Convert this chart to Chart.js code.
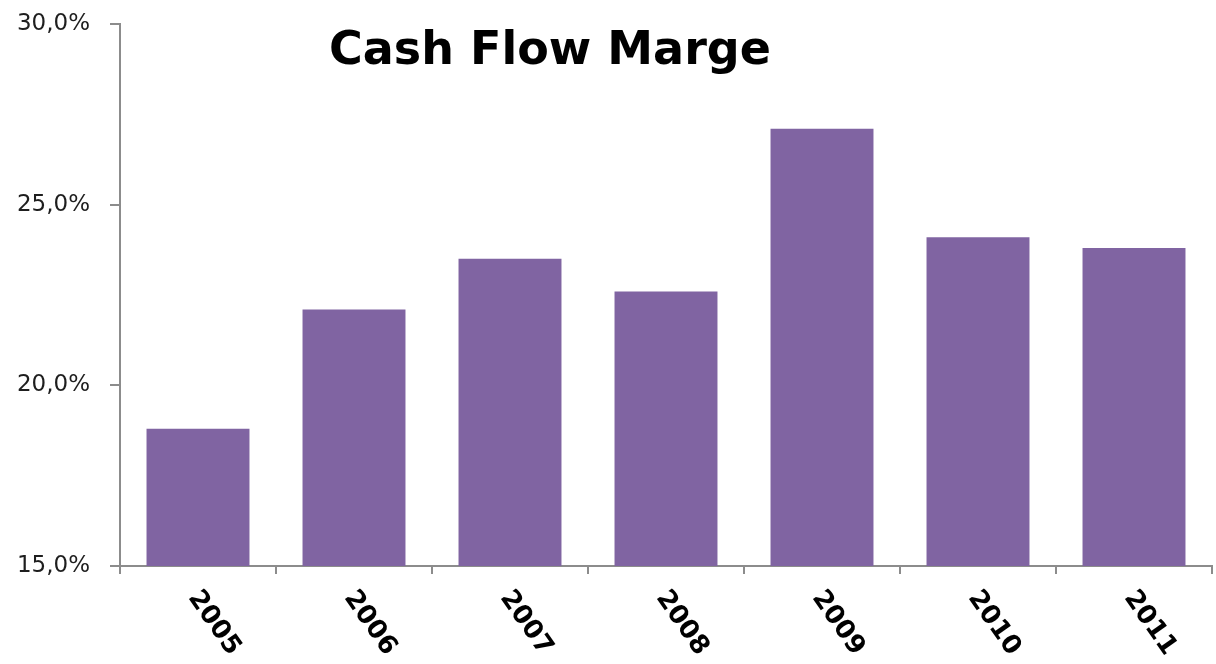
<!DOCTYPE html>
<html>
<head>
<meta charset="utf-8">
<title>Cash Flow Marge</title>
<script src="https://cdn.jsdelivr.net/npm/chart.js@4"></script>
<style>
  html, body { margin: 0; padding: 0; background: #fff; }
  .chart-container { position: relative; width: 1216px; height: 664px; }
</style>
</head>
<body>
<div class="chart-container">
  <canvas id="cashFlowChart"></canvas>
</div>
<script>
// chart data
const years = ['2005', '2006', '2007', '2008', '2009', '2010', '2011'];
const margins = [18.8, 22.1, 23.5, 22.6, 27.1, 24.1, 23.8];
const yTicks = [15, 20, 25, 30];
const chartTitle = 'Cash Flow Marge';

const barColor = '#8064a2';
const axisColor = '#8c8c8c';

// draws the title inside the plot and the slanted year labels
const labelPlugin = {
  id: 'labelPlugin',
  afterDraw(chart) {
    const ctx = chart.ctx;
    const xScale = chart.scales.x;
    ctx.save();
    ctx.fillStyle = '#000';
    ctx.font = 'bold 46px "DejaVu Sans", Verdana, sans-serif';
    ctx.textAlign = 'center';
    ctx.textBaseline = 'middle';
    ctx.fillText(chartTitle, 550, 52);

    ctx.font = 'bold 26px "DejaVu Sans", Verdana, sans-serif';
    years.forEach((year, i) => {
      const x = xScale.getPixelForValue(i);
      ctx.save();
      ctx.translate(x + 16, xScale.top + 57);
      ctx.rotate(55 * Math.PI / 180);
      ctx.fillText(year, 0, 0);
      ctx.restore();
    });
    ctx.restore();
  }
};

new Chart(document.getElementById('cashFlowChart'), {
  type: 'bar',
  data: {
    labels: years,
    datasets: [{
      label: chartTitle,
      data: margins,
      backgroundColor: barColor,
      borderWidth: 0,
      barPercentage: 0.66,
      categoryPercentage: 1
    }]
  },
  options: {
    responsive: true,
    maintainAspectRatio: false,
    animation: false,
    layout: { padding: { top: 24, right: 4, left: 0, bottom: 0 } },
    plugins: {
      legend: { display: false },
      title: { display: false },
      tooltip: { enabled: false }
    },
    scales: {
      x: {
        offset: true,
        grid: {
          offset: true,
          drawOnChartArea: false,
          color: axisColor,
          lineWidth: 2,
          tickLength: 8
        },
        border: { color: axisColor, width: 2 },
        ticks: { color: 'rgba(0,0,0,0)' },
        afterFit(scale) {
          scale.height = 98;
          scale.paddingLeft = 0;
          scale.paddingRight = 0;
        }
      },
      y: {
        min: 15,
        max: 30,
        afterBuildTicks(scale) {
          scale.ticks = yTicks.map(v => ({ value: v }));
        },
        grid: {
          drawOnChartArea: false,
          color: axisColor,
          lineWidth: 2,
          tickLength: 10
        },
        border: { color: axisColor, width: 2 },
        ticks: {
          color: '#1e1e1e',
          padding: 20,
          font: { family: '"DejaVu Sans", Tahoma, sans-serif', size: 23 },
          callback: (v) => v.toFixed(1).replace('.', ',') + '%'
        },
        afterFit(scale) {
          scale.width = 120;
          scale.paddingTop = 0;
          scale.paddingBottom = 0;
        }
      }
    }
  },
  plugins: [labelPlugin]
});
</script>
</body>
</html>
